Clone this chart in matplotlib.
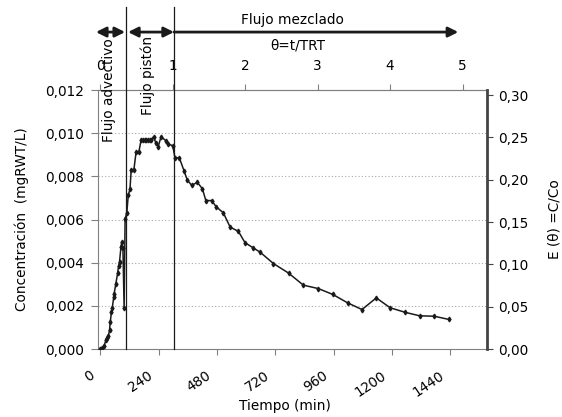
import numpy as np
import matplotlib as mpl
import matplotlib.pyplot as plt
import matplotlib.transforms as mtransforms
from matplotlib.ticker import FuncFormatter

# datos
t_min = [0, 8, 15, 23, 28, 33, 38, 41, 46, 49, 55, 57, 64, 71, 75, 79, 85, 88, 93, 98,
         102, 109, 115, 122, 127, 138, 147, 158, 168, 175, 182, 189, 196, 203, 210,
         219, 229, 238, 250, 270, 280, 298, 307, 325, 344, 357, 376, 399, 420, 434,
         458, 476, 506, 534, 568, 595, 627, 657, 712, 774, 835, 897, 956, 1017, 1076,
         1135, 1192, 1254, 1313, 1373, 1434]
conc = [0.00000, 0.00005, 0.00014, 0.00040, 0.00052, 0.00060, 0.00088, 0.00126, 0.00172,
        0.00188, 0.00239, 0.00257, 0.00303, 0.00350, 0.00383, 0.00403, 0.00473, 0.00496,
        0.00470, 0.00188, 0.00604, 0.00630, 0.00714, 0.00740, 0.00830, 0.00830, 0.00911,
        0.00911, 0.00969, 0.00969, 0.00969, 0.00969, 0.00969, 0.00969, 0.00969, 0.00984,
        0.00953, 0.00938, 0.00984, 0.00965, 0.00950, 0.00942, 0.00886, 0.00886, 0.00827,
        0.00785, 0.00758, 0.00773, 0.00742, 0.00688, 0.00688, 0.00660, 0.00631, 0.00565,
        0.00545, 0.00493, 0.00470, 0.00449, 0.00396, 0.00352, 0.00296, 0.00280, 0.00253,
        0.00214, 0.00183, 0.00237, 0.00191, 0.00170, 0.00154, 0.00152, 0.00137]

TRT = 298            # tiempo de retencion teorico (min)
t_adv = 104          # fin flujo advectivo
t_pist = 305         # fin flujo piston
x_ticks = [0, 240, 480, 720, 960, 1200, 1440]
theta_ticks = [0, 1, 2, 3, 4, 5]
c_ticks = [0, 0.002, 0.004, 0.006, 0.008, 0.010, 0.012]
e_ticks = [0, 0.05, 0.10, 0.15, 0.20, 0.25, 0.30]

mpl.rcParams['font.family'] = 'DejaVu Sans'
mpl.rcParams['font.size'] = 9.8

fig = plt.figure(figsize=(5.62, 4.17), dpi=100)
ax = fig.add_axes([0.175, 0.163, 0.6915, 0.621])

ax.plot(t_min, conc, color='#1a1a1a', lw=1.1, marker='d', ms=2.4, zorder=3)

ax.set_xlim(-8, 1590)
ax.set_ylim(0, 0.012)
ax.set_xticks(x_ticks)
ax.set_yticks(c_ticks)
ax.yaxis.set_major_formatter(FuncFormatter(lambda v, p: ('%.3f' % v).replace('.', ',')))
ax.tick_params(axis='x', direction='out', length=4, color='#808080', pad=4)
ax.tick_params(axis='y', direction='out', length=5, color='#808080', pad=5)
# etiquetas inclinadas, corridas un poco a la izquierda y abajo
off = mtransforms.ScaledTranslation(-0.11, -0.08, fig.dpi_scale_trans)
for lab in ax.get_xticklabels():
    lab.set_rotation(34)
    lab.set_ha('right')
    lab.set_va('top')
    lab.set_rotation_mode('anchor')
    lab.set_transform(lab.get_transform() + off)
for y in c_ticks[1:-1]:
    ax.axhline(y, color='#aaaaaa', lw=0.8, ls=(0, (1, 2)), zorder=1)

for s in ['left', 'bottom', 'top']:
    ax.spines[s].set_color('#808080')
ax.spines['right'].set_visible(False)

ax.set_xlabel('Tiempo (min)')
ax.xaxis.set_label_coords(0.48, -0.192)
ax.set_ylabel('Concentración  (mgRWT/L)', labelpad=12)

# eje derecho E(theta)
ax2 = ax.twinx()
ax2.set_ylim(0, 0.306)
ax2.set_yticks(e_ticks)
ax2.yaxis.set_major_formatter(FuncFormatter(lambda v, p: ('%.2f' % v).replace('.', ',')))
ax2.spines['right'].set_color('#444444')
ax2.spines['right'].set_linewidth(2)
for s in ['left', 'bottom', 'top']:
    ax2.spines[s].set_visible(False)
ax2.tick_params(axis='y', direction='out', length=4, color='#444444', pad=4)
ax2.set_ylabel('E (θ) =C/Co', labelpad=14)

# eje superior theta
sec = ax.secondary_xaxis('top', functions=(lambda t: t / TRT, lambda th: th * TRT))
sec.set_xticks(theta_ticks)
sec.tick_params(direction='out', length=4, color='#808080', pad=8)
sec.spines['top'].set_color('#808080')
ax.text(810, 1.174, 'θ=t/TRT', transform=ax.get_xaxis_transform(), ha='center', va='center')

# lineas verticales de zonas
for tv in [t_adv, t_pist]:
    ax.plot([tv, tv], [0, 1.32], color='#1a1a1a', lw=0.9,
            transform=ax.get_xaxis_transform(), clip_on=False, zorder=4)

# flechas
tr = ax.get_xaxis_transform()
ya = 1.224
kw = dict(color='#1a1a1a', lw=2, shrinkA=0, shrinkB=0)
ax.annotate('', xy=(-18, ya), xytext=(t_adv - 2, ya), xycoords=tr, textcoords=tr,
            arrowprops=dict(arrowstyle='<|-|>,head_length=0.6,head_width=0.3', **kw), annotation_clip=False)
ax.annotate('', xy=(t_adv + 10, ya), xytext=(t_pist - 2, ya), xycoords=tr, textcoords=tr,
            arrowprops=dict(arrowstyle='<|-|>,head_length=0.6,head_width=0.3', **kw), annotation_clip=False)
ax.annotate('', xy=(1472, ya), xytext=(t_pist - 2, ya), xycoords=tr, textcoords=tr,
            arrowprops=dict(arrowstyle='-|>,head_length=0.6,head_width=0.3', **kw), annotation_clip=False)

ax.text(790, 1.27, 'Flujo mezclado', transform=tr, ha='center', va='center')
ax.text(35, 1.0, 'Flujo advectivo', transform=tr, ha='center', va='center', rotation=90)
ax.text(196, 1.058, 'Flujo pistón', transform=tr, ha='center', va='center', rotation=90)

plt.savefig('out.png', dpi=100)
